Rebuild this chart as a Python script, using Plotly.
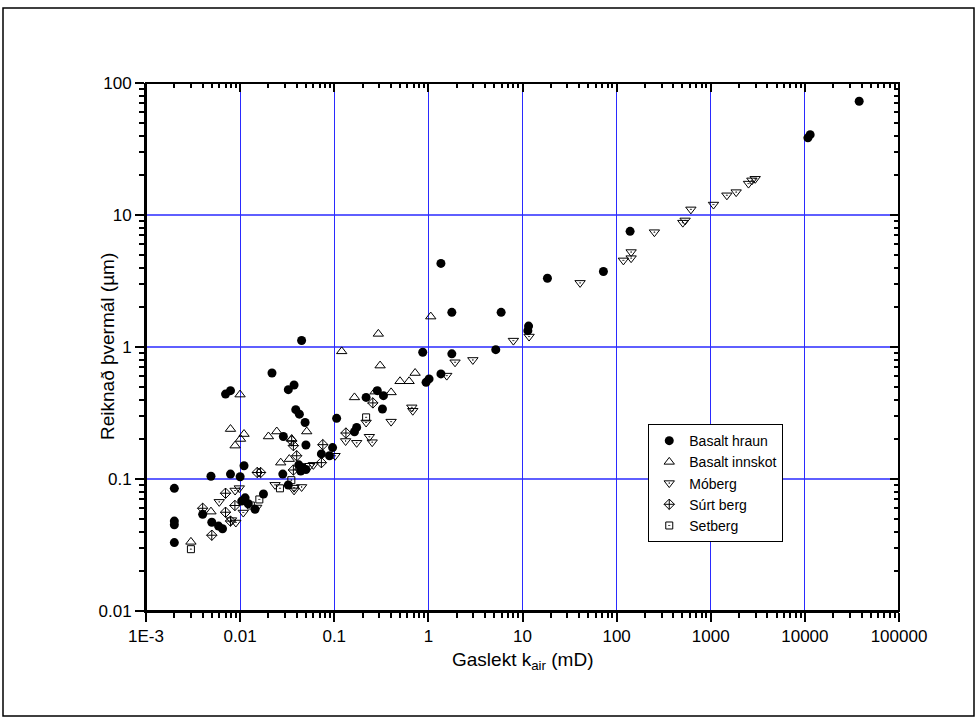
import plotly.graph_objects as go

# Gas permeability (mD) vs. computed pore diameter (µm), by rock type
basalt_hraun_k = [0.002, 0.002, 0.002, 0.002, 0.004, 0.005, 0.0059, 0.0065,
                  0.0049, 0.0079, 0.01, 0.011, 0.0104, 0.0113, 0.0122, 0.0144, 0.0177,
                  0.0325, 0.0284, 0.0070, 0.0079, 0.0218, 0.0325, 0.0374, 0.039,
                  0.0426, 0.049, 0.0288, 0.050, 0.045, 0.073, 0.089, 0.096,
                  0.042, 0.046, 0.05, 0.044, 0.106, 0.218, 0.287, 0.173, 0.164,
                  0.333, 0.325, 0.871, 1.775, 0.945, 1.017, 1.36, 1.775, 5.93, 5.2,
                  11.6, 11.4, 18.4, 72.4, 139, 1.36, 11380, 10770, 37760]
basalt_hraun_d = [0.085, 0.048, 0.045, 0.033, 0.054, 0.047, 0.044, 0.042,
                  0.105, 0.109, 0.104, 0.126, 0.068, 0.072, 0.065, 0.059, 0.077,
                  0.09, 0.109, 0.44, 0.467, 0.635, 0.475, 0.515, 0.335,
                  0.31, 0.268, 0.21, 0.181, 1.12, 0.155, 0.15, 0.173,
                  0.128, 0.122, 0.118, 0.115, 0.288, 0.415, 0.467, 0.246, 0.228,
                  0.428, 0.339, 0.912, 0.887, 0.54, 0.573, 0.625, 1.83, 1.83, 0.955,
                  1.44, 1.33, 3.32, 3.73, 7.52, 4.3, 40.6, 38.4, 72.8]

basalt_innskot_k = [0.003, 0.0049, 0.00998, 0.0079, 0.011, 0.0101, 0.00884, 0.02,
                    0.0245, 0.051, 0.027, 0.0333, 0.0353, 0.12, 0.294, 0.307, 0.164,
                    0.272, 1.06, 0.723, 0.5, 0.624, 0.402]
basalt_innskot_d = [0.0334, 0.0566, 0.436, 0.239, 0.219, 0.201, 0.179, 0.21,
                    0.229, 0.229, 0.133, 0.1415, 0.201, 0.927, 1.257, 0.723, 0.415,
                    0.459, 1.70, 0.635, 0.55, 0.55, 0.453]

moberg_k = [0.0098, 0.00884, 0.006, 0.0081, 0.009, 0.0108, 0.015, 0.0235, 0.0374,
            0.045, 0.055, 0.06, 0.0374, 0.102, 0.132, 0.173, 0.236, 0.253, 0.218,
            0.402, 0.667, 0.683, 1.567, 1.92, 2.97, 8.0, 11.75, 40.9, 118, 142.6,
            142.6, 252, 505, 534, 615, 1069, 1483, 1862, 2518, 2735, 2966]
moberg_d = [0.0853, 0.0818, 0.0671, 0.0488, 0.0468, 0.0557, 0.0608, 0.0903, 0.086,
            0.087, 0.126, 0.128, 0.082, 0.15, 0.194, 0.188, 0.209, 0.19, 0.268,
            0.272, 0.349, 0.329, 0.607, 0.766, 0.798, 1.118, 1.2, 3.06, 4.53, 5.24,
            4.71, 7.41, 8.75, 9.1, 11.03, 12.0, 14.1, 14.9, 17.3, 18.3, 18.8]

surt_berg_k = [0.004, 0.005, 0.007, 0.007, 0.0079, 0.0088, 0.0152, 0.0165, 0.0353,
               0.0368, 0.0399, 0.0368, 0.043, 0.0756, 0.073, 0.257, 0.133]
surt_berg_d = [0.06, 0.0375, 0.078, 0.056, 0.048, 0.063, 0.112, 0.112, 0.195,
               0.179, 0.15, 0.117, 0.119, 0.182, 0.133, 0.377, 0.223]

setberg_k = [0.003, 0.013, 0.016, 0.0265, 0.035, 0.218]
setberg_d = [0.0294, 0.063, 0.070, 0.085, 0.098, 0.293]

x_tickvals = [1e-3, 1e-2, 1e-1, 1, 10, 100, 1000, 10000, 100000]
x_ticktext = ["1E-3", "0.01", "0.1", "1", "10", "100", "1000", "10000", "100000"]
y_tickvals = [0.01, 0.1, 1, 10, 100]
y_ticktext = ["0.01", "0.1", "1", "10", "100"]

FONT = "Arial, Liberation Sans, sans-serif"
GRID = "#2a2aff"

# plot area in pixels: x 146..899, y 83..611
L, R, T, B = 146, 78, 83, 113
W, H = 977 - L - R, 724 - T - B


def minor_vals(lo, hi):
    vals = []
    for e in range(lo, hi):
        for m in range(2, 10):
            vals.append(m * 10.0 ** e)
    return vals


x_minor = minor_vals(-3, 5)
y_minor = minor_vals(-2, 2)

series = [
    ("Basalt hraun", basalt_hraun_k, basalt_hraun_d,
     dict(symbol="circle", size=9, color="black", line=dict(width=0))),
    ("Basalt innskot", basalt_innskot_k, basalt_innskot_d,
     dict(symbol="triangle-up-open", size=9, color="black", line=dict(width=1))),
    ("Móberg", moberg_k, moberg_d,
     dict(symbol="triangle-down-open-dot", size=9, color="black", line=dict(width=1))),
    ("Súrt berg", surt_berg_k, surt_berg_d,
     dict(symbol="diamond-cross-open", size=8, color="black", line=dict(width=1))),
    ("Setberg", setberg_k, setberg_d,
     dict(symbol="square-open-dot", size=7, color="black", line=dict(width=1))),
]

fig = go.Figure()
for name, xs, ys, mk in series:
    fig.add_trace(go.Scatter(x=xs, y=ys, mode="markers", name=name, marker=mk))

# empty trace that carries the mirrored top/right axes
fig.add_trace(go.Scatter(x=[], y=[], xaxis="x2", yaxis="y2",
                         showlegend=False, hoverinfo="skip"))

axis_common = dict(type="log", showline=True, linecolor="black", linewidth=2,
                   tickcolor="black", tickwidth=1.5, ticklen=9,
                   zeroline=False, tickfont=dict(family=FONT, size=17, color="black"))

mirror_common = dict(type="log", showline=False, showgrid=False, zeroline=False,
                     ticks="inside", tickmode="array", showticklabels=False,
                     ticklen=9, tickwidth=1.5, tickcolor="black")

fig.update_layout(
    width=977, height=724,
    margin=dict(l=L, r=R, t=T, b=B),
    paper_bgcolor="white", plot_bgcolor="white",
    font=dict(family=FONT, color="black"),
    showlegend=True,
    xaxis=dict(**axis_common, range=[-3, 5], ticks="outside",
               tickmode="array", tickvals=x_tickvals, ticktext=x_ticktext,
               showgrid=True, gridcolor=GRID, gridwidth=1,
               minor=dict(tickmode="array", tickvals=x_minor, ticks="outside",
                          ticklen=5, tickwidth=1.5, tickcolor="black",
                          showgrid=False)),
    yaxis=dict(**axis_common, range=[-2, 2], ticks="outside",
               tickmode="array", tickvals=y_tickvals, ticktext=y_ticktext,
               showgrid=False,
               minor=dict(tickmode="array", tickvals=y_minor, ticks="outside",
                          ticklen=5, tickwidth=1.5, tickcolor="black",
                          showgrid=False)),
    xaxis2=dict(**mirror_common, range=[-3, 5], overlaying="x", side="top",
                anchor="y", tickvals=x_tickvals,
                minor=dict(tickmode="array", tickvals=x_minor, ticks="inside",
                           ticklen=5, tickwidth=1.5, tickcolor="black",
                           showgrid=False)),
    yaxis2=dict(**mirror_common, range=[-2, 2], overlaying="y", side="right",
                anchor="x", tickvals=y_tickvals,
                minor=dict(tickmode="array", tickvals=y_minor, ticks="inside",
                           ticklen=5, tickwidth=1.5, tickcolor="black",
                           showgrid=False)),
    legend=dict(x=0.667, y=0.354, xanchor="left", yanchor="top",
                bgcolor="white", bordercolor="black", borderwidth=1,
                font=dict(family=FONT, size=14, color="black"),
                itemwidth=30, tracegroupgap=0),
)

# horizontal grid lines at the decade ticks, beneath the markers
for yv in y_tickvals[1:-1]:
    fig.add_shape(type="line", xref="paper", yref="y", x0=0, x1=1, y0=yv, y1=yv,
                  line=dict(color=GRID, width=1.3), layer="below")

# axis titles
fig.add_annotation(text="Gaslekt k<sub>air</sub> (mD)", xref="paper", yref="paper",
                   x=0.5, y=(610 - 660) / H, xanchor="center", yanchor="middle",
                   showarrow=False, font=dict(family=FONT, size=19, color="black"))
fig.add_annotation(text="Reiknað þvermál (µm)", xref="paper", yref="paper",
                   x=(107 - L) / W, y=0.5, xanchor="center", yanchor="middle",
                   textangle=-90, showarrow=False,
                   font=dict(family=FONT, size=19, color="black"))

# box around the whole plot area (mirrors of the axis lines)
fig.add_shape(type="rect", xref="paper", yref="paper", x0=0, x1=1, y0=0, y1=1,
              line=dict(color="black", width=2), fillcolor="rgba(0,0,0,0)",
              layer="above")
# outer frame around the figure
fig.add_shape(type="rect", xref="paper", yref="paper",
              x0=(3 - L) / W, x1=(974 - L) / W,
              y0=(611 - 716) / H, y1=(611 - 8) / H,
              line=dict(color="black", width=1.5), fillcolor="rgba(0,0,0,0)")

fig.write_html("out.html")
